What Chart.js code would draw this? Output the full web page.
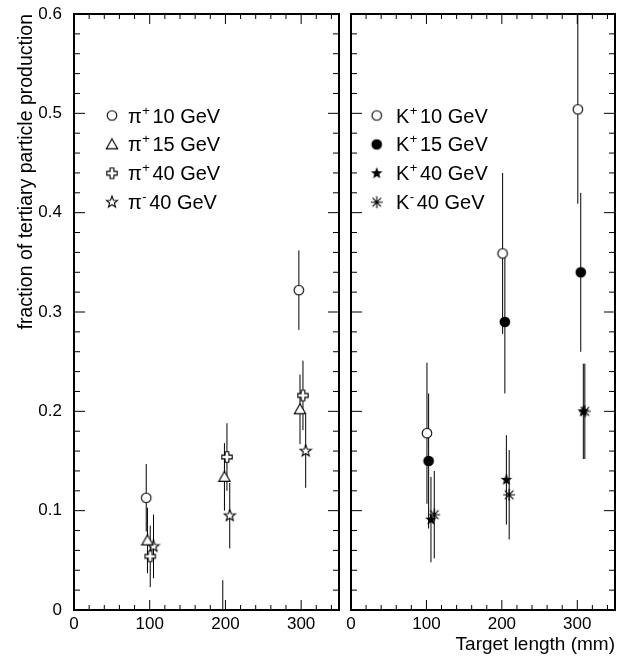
<!DOCTYPE html>
<html>
<head>
<meta charset="utf-8">
<script src="https://cdn.jsdelivr.net/npm/chart.js@4.4.1/dist/chart.umd.min.js"></script>
<style>
  body { margin: 0; background: #fff; }
  #wrap { position: relative; width: 623px; height: 656px; }
  canvas { position: absolute; top: 0; }
  #pionChart { left: 0; }
  #kaonChart { left: 345px; }
</style>
</head>
<body>
<div id="wrap">
  <canvas id="pionChart" width="345" height="656"></canvas>
  <canvas id="kaonChart" width="278" height="656"></canvas>
</div>
<script>
// axis ticks
var xTicks = [0, 100, 200, 300];
var yTicks = [0, 0.1, 0.2, 0.3, 0.4, 0.5, 0.6];

// pions: target length (mm), fraction, error
var pip10X = [95.4, 196.5, 297];
var pip10Y = [0.113, -0.01, 0.322];
var pip10Err = [0.034, 0.04, 0.040];
var pip15X = [97, 198.7, 298.5];
var pip15Y = [0.070, 0.134, 0.202];
var pip15Err = [0.033, 0.034, 0.035];
var pip40X = [100.7, 202, 302.4];
var pip40Y = [0.054, 0.154, 0.216];
var pip40Err = [0.031, 0.034, 0.035];
var pim40X = [105, 205.7, 306];
var pim40Y = [0.064, 0.095, 0.160];
var pim40Err = [0.032, 0.033, 0.037];

// kaons
var kp10X = [100.7, 201, 300.7];
var kp10Y = [0.178, 0.359, 0.504];
var kp10Err = [0.071, 0.081, 0.095];
var kp15X = [102.9, 204, 304.6];
var kp15Y = [0.150, 0.290, 0.340];
var kp15Err = [0.068, 0.072, 0.080];
var kp40X = [106, 206, 308];
var kp40Y = [0.091, 0.131, 0.200];
var kp40Err = [0.043, 0.045, 0.048];
var km40X = [110.4, 209.7, 310];
var km40Y = [0.096, 0.116, 0.200];
var km40Err = [0.044, 0.045, 0.048];

// legend text
var pionNames = ['π', 'π', 'π', 'π'];
var pionCharges = ['+', '+', '+', '-'];
var pionEnergies = ['10 GeV', '15 GeV', '40 GeV', '40 GeV'];
var kaonNames = ['K', 'K', 'K', 'K'];
var kaonCharges = ['+', '+', '+', '-'];
var kaonEnergies = ['10 GeV', '15 GeV', '40 GeV', '40 GeV'];

var FONT = '"Liberation Sans", Arial, Helvetica, sans-serif';

// ROOT-like markers drawn on small canvases
function marker(kind) {
  var c = document.createElement('canvas');
  c.width = 14; c.height = 14;
  var g = c.getContext('2d');
  g.translate(7, 7);
  g.lineWidth = 1.1;
  g.strokeStyle = '#000';
  g.fillStyle = (kind == 'dot' || kind == 'smallstar') ? '#000' : '#fff';
  g.beginPath();
  if (kind == 'circle' || kind == 'dot') {
    g.arc(0, 0, 4.8, 0, Math.PI * 2);
  } else if (kind == 'triangle') {
    g.moveTo(0, -5.6); g.lineTo(5.7, 4.4); g.lineTo(-5.7, 4.4); g.closePath();
  } else if (kind == 'cross') {
    var s = 5.2, a = 1.9;
    g.moveTo(-a, -s); g.lineTo(a, -s); g.lineTo(a, -a); g.lineTo(s, -a);
    g.lineTo(s, a); g.lineTo(a, a); g.lineTo(a, s); g.lineTo(-a, s);
    g.lineTo(-a, a); g.lineTo(-s, a); g.lineTo(-s, -a); g.lineTo(-a, -a);
    g.closePath();
  } else if (kind == 'star' || kind == 'smallstar') {
    var R = kind == 'star' ? 6 : 4.6, r = R * 0.42;
    for (var i = 0; i < 10; i++) {
      var ang = -Math.PI / 2 + i * Math.PI / 5, rr = i % 2 ? r : R;
      g.lineTo(rr * Math.cos(ang), rr * Math.sin(ang));
    }
    g.closePath();
  } else if (kind == 'asterisk') {
    var d = 4.3;
    g.moveTo(0, -6); g.lineTo(0, 6);
    g.moveTo(-6, 0); g.lineTo(6, 0);
    g.moveTo(-d, -d); g.lineTo(d, d);
    g.moveTo(-d, d); g.lineTo(d, -d);
    g.stroke();
    return c;
  }
  g.fill();
  g.stroke();
  return c;
}

function series(xs, ys, errs, style, name, charge, energy) {
  return {
    data: xs.map(function(x, i){ return {x: x, y: ys[i]}; }),
    errors: errs,
    pointStyle: marker(style),
    pointRadius: 5,
    showLine: false,
    particle: name, charge: charge, energy: energy
  };
}

var errorBars = {
  id: 'errorBars',
  beforeDatasetsDraw: function(chart) {
    var ctx = chart.ctx, a = chart.chartArea, xs = chart.scales.x, ys = chart.scales.y;
    ctx.save();
    ctx.beginPath();
    ctx.rect(a.left, a.top, a.right - a.left, a.bottom - a.top);
    ctx.clip();
    ctx.strokeStyle = '#000';
    ctx.lineWidth = 1;
    chart.data.datasets.forEach(function(ds){
      ds.data.forEach(function(p, i){
        var px = xs.getPixelForValue(p.x);
        ctx.beginPath();
        ctx.moveTo(px, ys.getPixelForValue(p.y + ds.errors[i]));
        ctx.lineTo(px, ys.getPixelForValue(p.y - ds.errors[i]));
        ctx.stroke();
      });
    });
    ctx.restore();
  }
};

// frame with inward ticks on all four sides
var frame = {
  id: 'frame',
  afterDraw: function(chart) {
    var ctx = chart.ctx, a = chart.chartArea, xs = chart.scales.x, ys = chart.scales.y;
    ctx.save();
    ctx.strokeStyle = '#000';
    ctx.lineWidth = 1;
    ctx.beginPath();
    for (var v = 0; v <= 340; v += 20) {
      var px = xs.getPixelForValue(v), len = v % 100 === 0 ? 10 : 5;
      ctx.moveTo(px, a.bottom); ctx.lineTo(px, a.bottom - len);
      ctx.moveTo(px, a.top); ctx.lineTo(px, a.top + len);
    }
    for (var i = 0; i <= 30; i++) {
      var py = ys.getPixelForValue(i * 0.02), l = i % 5 === 0 ? 11 : 6;
      ctx.moveTo(a.left, py); ctx.lineTo(a.left + l, py);
      ctx.moveTo(a.right, py); ctx.lineTo(a.right - l, py);
    }
    ctx.stroke();
    ctx.lineWidth = 2;
    ctx.strokeRect(a.left, a.top, a.right - a.left, a.bottom - a.top);
    ctx.restore();
  }
};

var panelLegend = {
  id: 'panelLegend',
  afterDraw: function(chart, args, opts) {
    var ctx = chart.ctx;
    ctx.save();
    ctx.fillStyle = '#000';
    ctx.textBaseline = 'alphabetic';
    chart.data.datasets.forEach(function(ds, i){
      var y = opts.rowY + i * opts.rowStep;
      var img = ds.pointStyle;
      ctx.drawImage(img, opts.markerX - img.width / 2, y - img.height / 2);
      var x = opts.textX, base = y + 7;
      ctx.font = '20px ' + FONT;
      ctx.fillText(ds.particle, x, base);
      x += ctx.measureText(ds.particle).width + 0.5;
      ctx.font = '13px ' + FONT;
      ctx.fillText(ds.charge, x, base - 8);
      x += ctx.measureText(ds.charge).width + 2.5;
      ctx.font = '20px ' + FONT;
      ctx.fillText(ds.energy, x, base);
    });
    ctx.restore();
  }
};

function noPadding(s) {
  s.paddingTop = 0; s.paddingBottom = 0; s.paddingLeft = 0; s.paddingRight = 0;
}

function panel(canvasId, datasets, left, legendOpts) {
  var xTitle = {display: false};
  if (!left) {
    xTitle = {display: true, text: 'Target length (mm)', align: 'end', color: '#000',
              font: {family: FONT, size: 19}, padding: {top: 0, bottom: 0}};
  }
  var yTitle = {display: false};
  if (left) {
    yTitle = {display: true, text: 'fraction of tertiary particle production', align: 'end',
              color: '#000', font: {family: FONT, size: 19.5}, padding: {top: 15, bottom: 0}};
  }
  return new Chart(document.getElementById(canvasId), {
    type: 'scatter',
    data: {datasets: datasets},
    options: {
      responsive: false,
      animation: false,
      layout: {padding: {top: 14, bottom: 0, left: 0, right: left ? 6 : 8}},
      plugins: {
        legend: {display: false},
        tooltip: {enabled: false},
        panelLegend: legendOpts
      },
      scales: {
        x: {
          type: 'linear', min: 0, max: 350,
          afterBuildTicks: function(s){ s.ticks = xTicks.map(function(v){ return {value: v}; }); },
          afterFit: function(s){ s.height = 46; noPadding(s); },
          grid: {display: false, drawTicks: false},
          border: {display: false},
          ticks: {color: '#000', font: {family: FONT, size: 17}, padding: 4, maxRotation: 0, autoSkip: false},
          title: xTitle
        },
        y: {
          type: 'linear', min: 0, max: 0.6,
          afterBuildTicks: function(s){ s.ticks = yTicks.map(function(v){ return {value: v}; }); },
          afterFit: function(s){ s.width = left ? 74 : 5; noPadding(s); },
          grid: {display: false, drawTicks: false},
          border: {display: false},
          ticks: {display: left, color: '#000', font: {family: FONT, size: 17}, padding: 12,
                  callback: function(v){ return v === 0 ? '0' : v.toFixed(1); }},
          title: yTitle
        }
      }
    },
    plugins: [errorBars, frame, panelLegend]
  });
}

panel('pionChart', [
  series(pip10X, pip10Y, pip10Err, 'circle', pionNames[0], pionCharges[0], pionEnergies[0]),
  series(pip15X, pip15Y, pip15Err, 'triangle', pionNames[1], pionCharges[1], pionEnergies[1]),
  series(pip40X, pip40Y, pip40Err, 'cross', pionNames[2], pionCharges[2], pionEnergies[2]),
  series(pim40X, pim40Y, pim40Err, 'star', pionNames[3], pionCharges[3], pionEnergies[3])
], true, {markerX: 112, textX: 128, rowY: 115.5, rowStep: 28.9});

panel('kaonChart', [
  series(kp10X, kp10Y, kp10Err, 'circle', kaonNames[0], kaonCharges[0], kaonEnergies[0]),
  series(kp15X, kp15Y, kp15Err, 'dot', kaonNames[1], kaonCharges[1], kaonEnergies[1]),
  series(kp40X, kp40Y, kp40Err, 'smallstar', kaonNames[2], kaonCharges[2], kaonEnergies[2]),
  series(km40X, km40Y, km40Err, 'asterisk', kaonNames[3], kaonCharges[3], kaonEnergies[3])
], false, {markerX: 31.7, textX: 51, rowY: 115.5, rowStep: 28.9});
</script>
</body>
</html>
